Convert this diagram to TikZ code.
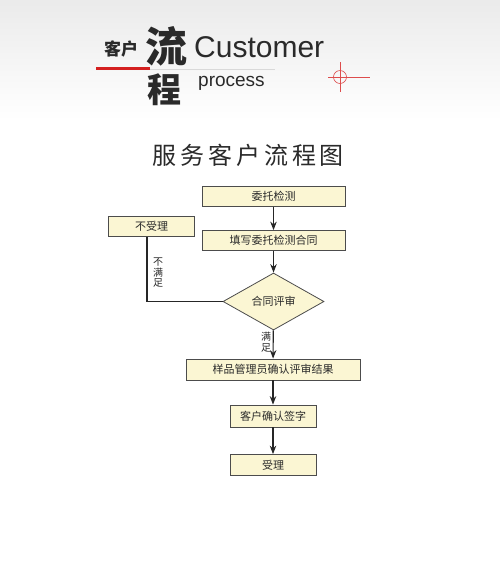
\documentclass[tikz,border=0pt]{standalone}
\usepackage{fontspec}
\setmainfont{Liberation Sans}
\newfontfamily\cjk{Noto Sans CJK SC}
\usetikzlibrary{arrows.meta,shapes.geometric}
\definecolor{boxfill}{HTML}{FBF6D3}
\definecolor{ink}{HTML}{2A2A2A}
\definecolor{redmark}{HTML}{D42020}
\begin{document}
\begin{tikzpicture}[x=1pt,y=-1pt,
  box/.style={draw=black!70, fill=boxfill, line width=0.8pt, inner sep=0pt,
    text=ink, font=\cjk\fontsize{11}{13}\selectfont},
  dia/.style={diamond, draw=black!70, fill=boxfill, line width=0.8pt, inner sep=0pt,
    minimum width=101pt, minimum height=57pt, text=ink, font=\cjk\fontsize{11}{13}\selectfont},
  arr/.style={line width=1.1pt, draw=black!85, -{Stealth[length=8.5pt,width=6.5pt]}},
  ln/.style={line width=1.1pt, draw=black!85},
  vlab/.style={inner sep=0pt, align=center, text=ink, font=\cjk\fontsize{10}{10.5}\selectfont}]
\useasboundingbox (0,0) rectangle (500,566);
\fill[white] (0,0) rectangle (500,566);
\shade[top color=black!8, bottom color=white] (0,0) rectangle (500,120);
% header
\node[inner sep=0pt, text=ink, font=\cjk\bfseries\fontsize{17}{17}\selectfont] (kh) at (121,48.5) {客户};
\node[inner sep=0pt, text=ink, font=\cjk\bfseries\fontsize{42}{42}\selectfont] (liu) at (166.5,46) {流};
\node[inner sep=0pt, text=ink, font=\cjk\bfseries\fontsize{34}{34}\selectfont] (cheng) at (164.5,90) {程};
\node[inner sep=0pt, anchor=base west, text=ink, font=\fontsize{30}{30}\selectfont] (cust) at (194,57) {Customer};
\node[inner sep=0pt, anchor=base west, text=ink, font=\fontsize{19}{19}\selectfont] (proc) at (198,86) {process};
\draw[black!15, line width=1pt] (150,69) -- (275,69);
\draw[redmark, line width=2.2pt] (96,68.5) -- (150,68.5);
\draw[redmark!80, line width=0.6pt] (340,77) circle (6.5pt);
\draw[redmark!80, line width=0.6pt] (328,77) -- (370,77);
\draw[redmark!80, line width=0.6pt] (340,62) -- (340,92);
% title
\node[inner sep=0pt, text=ink, font=\cjk\fontsize{24}{24}\selectfont\addfontfeature{LetterSpace=16}] (title) at (248.5,155) {服务客户流程图};
% flow
\node[box, minimum width=143pt, minimum height=20.5pt] (n1) at (273.5,196.5) {委托检测};
\node[box, minimum width=143pt, minimum height=20pt] (n2) at (273.5,240.5) {填写委托检测合同};
\node[box, minimum width=86pt, minimum height=20pt] (rej) at (151.5,226.5) {不受理};
\node[dia] (d) at (273.5,301.5) {合同评审};
\node[box, minimum width=174pt, minimum height=21pt] (n3) at (273,369.5) {样品管理员确认评审结果};
\node[box, minimum width=86pt, minimum height=22pt] (n4) at (273,416) {客户确认签字};
\node[box, minimum width=86pt, minimum height=21pt] (n5) at (273,465) {受理};
\coordinate (rj) at ([xshift=-4.5pt]rej.south);
\draw[arr] (n1) -- (n2);
\draw[arr] (n2) -- (d);
\draw[arr] (d) -- (n3);
\draw[arr] (n3) -- (n4);
\draw[arr] (n4) -- (n5);
\draw[ln] (d.west) -| (rj);
\node[vlab] (l1) at (158,273) {不\\满\\足};
\node[vlab] (l2) at (266,342) {满\\足};
\end{tikzpicture}
\end{document}
